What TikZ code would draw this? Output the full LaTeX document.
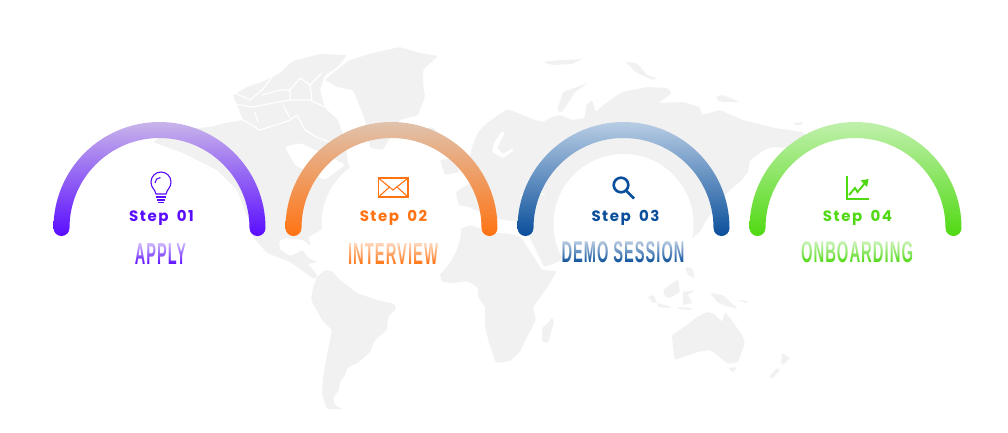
\documentclass[tikz,border=0pt]{standalone}
\usepackage{graphicx}
\usepackage{fontspec}
\usepackage{xcolor}
\setmainfont{Liberation Sans}
\newfontfamily\stepfont[LetterSpace=10,WordSpace=1.8]{Poppins}
\newfontfamily\ttlfont[LetterSpace=7]{Liberation Sans}
\usetikzlibrary{fadings}
\definecolor{landgray}{HTML}{F1F1F1}
\definecolor{atop}{HTML}{C8B4EA}\definecolor{abot}{HTML}{5A0CFF}
\definecolor{btop}{HTML}{E0C2AC}\definecolor{bbot}{HTML}{FF7312}
\definecolor{ctop}{HTML}{B8CDE4}\definecolor{cbot}{HTML}{0A4F9B}
\definecolor{dtop}{HTML}{C0F0AC}\definecolor{dbot}{HTML}{50D912}

\begin{document}
\begin{tikzpicture}[x=1pt,y=1pt,yscale=-1,
  land/.style={fill=landgray,draw=none,rounded corners=1.5pt},
  sea/.style={draw=white,line width=1.2pt,line join=round},
  disc/.style={fill=white,draw=none},
  stplab/.style={inner sep=0pt,anchor=base,font=\stepfont\bfseries\fontsize{15}{15}\selectfont},
  ttl/.style={inner sep=0pt,anchor=north,font=\ttlfont\bfseries},
  icon/.style={line width=1.1pt,line join=miter}]
\useasboundingbox (0,0) rectangle (1008,432);
% land
\fill[land] (153,142) -- (172,130) -- (210,127) -- (225,123) -- (243,120) -- (235,100) -- (233,95) -- (247,87) -- (262,82) -- (280,73) -- (287,66) -- (293,61) -- (320,54) -- (347,55) -- (337,68) -- (325,75) -- (320,90) -- (325,108) -- (338,120) -- (345,140) -- (348,163) -- (362,190) -- (330,225) -- (308,237) -- (311,246) -- (303,240) -- (286,238) -- (279,241) -- (280,250) -- (290,256) -- (303,250) -- (308,258) -- (318,262) -- (308,264) -- (318,276) -- (314,279) -- (290,262) -- (267,253) -- (253,237) -- (250,223) -- (237,190) -- (217,170) -- (183,153) -- cycle;
\fill[white,rounded corners=2pt] (285,147) -- (300,143) -- (320,152) -- (333,158) -- (345,165) -- (325,180) -- (295,165) -- cycle;
\fill[land] (325,80) -- (343,62) -- (373,53) -- (400,47) -- (420,53) -- (438,56) -- (423,70) -- (423,83) -- (425,97) -- (418,115) -- (400,120) -- (383,150) -- (370,148) -- (367,127) -- (362,112) -- (353,90) -- (337,87) -- cycle;
\draw[sea,line width=1.8pt] (325,78) -- (345,62) -- (352,58);
\fill[land] (426,129) -- (432,127) -- (437,131) -- (430,134) -- cycle;
\draw[sea] (228,114) -- (240,118) -- (260,130) -- (282,123) -- (290,120) -- (297,115) -- (305,130) -- (318,138) -- (330,142);
\draw[sea] (228,103) -- (253,107) -- (273,103) -- (290,100) -- (310,100) -- (327,108) -- (342,122);
\draw[sea] (233,92) -- (250,100) -- (262,90) -- (270,80) -- (275,72);
\draw[sea] (290,100) -- (290,90) -- (300,78) -- (310,85) -- (322,73);
\draw[sea] (255,112) -- (258,122);
\draw[sea] (283,105) -- (290,118);
\draw[sea] (262,95) -- (280,90) -- (290,90);
\draw[sea] (310,85) -- (312,100);
\fill[land] (311,300) -- (313,288) -- (317,277) -- (325,270) -- (332,271) -- (340,280) -- (357,293) -- (377,300) -- (395,304) -- (396,309) -- (388,317) -- (387,330) -- (375,340) -- (370,352) -- (358,363) -- (348,367) -- (345,375) -- (340,382) -- (339,390) -- (333,398) -- (335,405) -- (343,409) -- (327,409) -- (322,395) -- (323,377) -- (328,350) -- (332,330) -- (322,320) -- cycle;
\fill[land] (442,282) -- (453,283) -- (468,281) -- (478,288) -- (478,297) -- (485,307) -- (485,327) -- (489,343) -- (496,363) -- (510,361) -- (520,352) -- (527,337) -- (536,320) -- (533,307) -- (547,288) -- (557,271) -- (542,270) -- (521,237) -- (510,234) -- (490,232) -- (470,225) -- (430,240) -- cycle;
\fill[land] (552,317) -- (554,322) -- (548,343) -- (542,342) -- (542,328) -- (548,323) -- cycle;
\fill[land] (472,147) -- (478,132) -- (487,123) -- (507,109) -- (518,113) -- (535,120) -- (543,122) -- (552,117) -- (560,115) -- (572,120) -- (585,118) -- (586,105) -- (592,100) -- (596,112) -- (600,108) -- (610,100) -- (622,92) -- (647,87) -- (667,88) -- (672,93) -- (658,103) -- (683,102) -- (700,107) -- (702,115) -- (720,110) -- (743,120) -- (775,128) -- (803,132) -- (808,140) -- (790,148) -- (772,147) -- (764,150) -- (750,160) -- (748,172) -- (742,180) -- (730,190) -- (720,200) -- (712,212) -- (705,222) -- (700,232) -- (690,240) -- (640,260) -- (570,250) -- (558,262) -- (544,267) -- (528,234) -- (520,222) -- (490,218) -- (470,207) -- (458,205) -- (456,192) -- (470,183) -- (478,175) -- (468,165) -- cycle;
\fill[land] (440,160) -- (452,158) -- (460,172) -- (445,175) -- cycle;
\fill[land] (557,110) -- (563,92) -- (588,83) -- (575,92) -- (567,105) -- (561,113) -- cycle;
\fill[land] (543,62) -- (560,60) -- (583,59) -- (572,64) -- (552,65) -- cycle;
\fill[land] (625,62) -- (637,63) -- (647,75) -- (657,78) -- (653,80) -- (637,73) -- cycle;
\fill[land] (715,97) -- (723,95) -- (740,102) -- (727,102) -- (720,102) -- cycle;
\fill[land] (793,123) -- (803,122) -- (802,125) -- (795,125) -- cycle;
\fill[land] (672,335) -- (687,325) -- (697,317) -- (707,312) -- (713,313) -- (722,322) -- (725,312) -- (730,318) -- (742,335) -- (745,343) -- (738,362) -- (728,364) -- (717,355) -- (710,350) -- (698,352) -- (683,357) -- (675,360) -- (673,348) -- cycle;
\fill[land] (728,368) -- (737,367) -- (733,373) -- cycle;
\fill[land,rounded corners=.5pt] (782,353) -- (790,358) -- (783,365) -- (781,362) -- cycle;
\fill[land,rounded corners=.5pt] (777,368) -- (780,370) -- (773,378) -- (769,377) -- cycle;
\fill[land] (710,293) -- (723,295) -- (738,309) -- (723,305) -- (717,302) -- cycle;
\fill[land] (663,290) -- (678,279) -- (680,292) -- (670,298) -- (665,297) -- cycle;
\fill[land,rounded corners=.5pt] (648,297) -- (653,295) -- (657,302) -- (653,303) -- cycle;
\fill[land,rounded corners=.5pt] (657,303) -- (672,307) -- (668,308) -- (658,307) -- cycle;
\fill[land,rounded corners=.5pt] (683,292) -- (695,290) -- (688,295) -- (692,303) -- (683,305) -- cycle;
\fill[land,rounded corners=.5pt] (685,267) -- (692,268) -- (695,278) -- (688,275) -- cycle;
\fill[land,rounded corners=.5pt] (678,307) -- (692,308) -- (690,310) -- (679,309) -- cycle;
\fill[land,rounded corners=.5pt] (737,300) -- (748,301) -- (746,303) -- cycle;
% seas
\fill[white,rounded corners=1pt] (502,131) -- (505,133) -- (497,148) -- (503,154) -- (513,148) -- (513,151) -- (503,158) -- (492,152) -- (494,143) -- cycle;
\draw[sea] (560,112) -- (572,119);
\draw[sea] (520,196) -- (530,190) -- (545,195);
\draw[sea] (310,251) -- (320,254) -- (326,260);
% gauges
\foreach \gx/\stx/\tlx/\tly/\tlw/\ctp/\cbt/\stp/\tl [count=\i] in {
  159.5/161.5/160.5/243/51/atop/abot/Step 01/APPLY,
  391.5/393.5/393/243/90/btop/bbot/Step 02/INTERVIEW,
  623.5/625.5/623/241/123/ctop/cbot/Step 03/DEMO SESSION,
  855.5/857.5/857/241/112/dtop/dbot/Step 04/ONBOARDING} {
  \fill[disc] (\gx,224) circle (70);
  \shade[top color=\ctp,bottom color=\cbt] (\gx-106,228) arc (180:360:106) arc (0:180:8) arc (360:180:90) arc (0:180:8) -- cycle;
  \node[stplab,text=\cbt] (step\i) at (\stx,221) {\stp};
  \node[ttl,text=\cbt] (title\i) at (\tlx,\tly) {\resizebox{\tlw pt}{21pt}{\tl}};
  \fill[white,fill opacity=.72,path fading=south] (title\i.north west) rectangle (title\i.south east);
}
% icons
\draw[icon,abot] (156,194) .. controls (155,189) and (151,188) .. (151,182) arc (180:360:10) .. controls (171,188) and (167,189) .. (166,194) -- cycle;
\draw[icon,abot] (155,183) arc (180:270:5.5);
\draw[icon,abot] (156,197) -- (166,197) (157,200) -- (165,200) (158,202.5) -- (164,202.5);
\draw[icon,bbot,line width=1.4pt] (378.5,178) rectangle (408,197);
\draw[icon,bbot] (379,178.5) -- (393,190) -- (407.5,178.5) (379,196.5) -- (389.5,187) (407.5,196.5) -- (397,187);
\draw[icon,cbot,line width=2.6pt] (621,185) circle (7.3);
\draw[icon,cbot,line width=2.6pt] (626.5,191) -- (634,198.5);
\draw[icon,dbot,line width=2.3pt] (847,176) -- (847,199) -- (869,199);
\draw[icon,dbot,line width=1.9pt] (849,195) -- (855,188) -- (857.5,192) -- (865,183);
\fill[dbot] (860.5,180.5) -- (868.5,179) -- (867,187) -- cycle;
\end{tikzpicture}
\end{document}
